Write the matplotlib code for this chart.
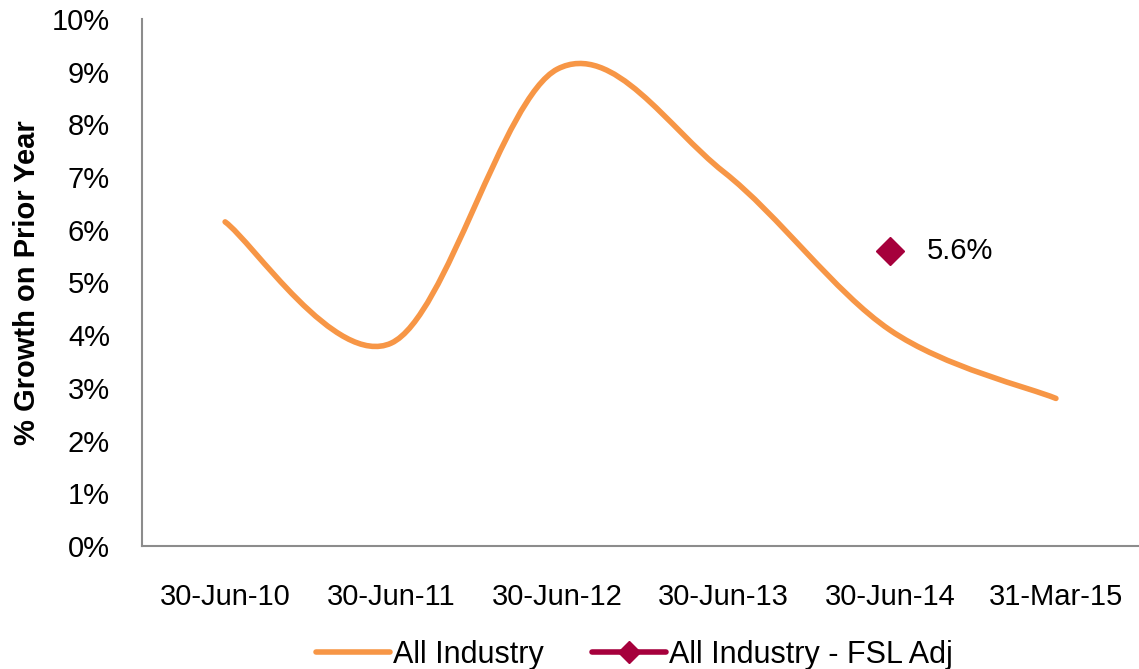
import matplotlib.pyplot as plt
from matplotlib.path import Path
from matplotlib.patches import PathPatch
import numpy as np

plt.rcParams['font.family'] = ['Liberation Sans', 'DejaVu Sans']

# data
CATEGORIES = ['30-Jun-10', '30-Jun-11', '30-Jun-12', '30-Jun-13', '30-Jun-14', '31-Mar-15']
ALL_INDUSTRY = [6.15, 3.85, 9.05, 7.1, 4.1, 2.8]
FSL_ADJ_INDEX = 4
FSL_ADJ_VALUE = 5.6
Y_TICKS = list(range(0, 11))

ORANGE = '#F79646'
MAROON = '#A6003C'
GREY = '#8C8C8C'


def smooth_path(xs: list, ys: list) -> Path:
    """
    Builds a cubic bezier path through the points, like the smoothed line of a spreadsheet chart
    """
    pts = np.column_stack([xs, ys]).astype(float)
    verts = [pts[0]]
    codes = [Path.MOVETO]
    n = len(pts)
    for i in range(n - 1):
        p0 = pts[i - 1] if i > 0 else pts[i]
        p1 = pts[i]
        p2 = pts[i + 1]
        p3 = pts[i + 2] if i + 2 < n else pts[i + 1]
        c1 = p1 + (p2 - p0) / 6.0
        c2 = p2 - (p3 - p1) / 6.0
        verts += [c1, c2, p2]
        codes += [Path.CURVE4] * 3
    return Path(verts, codes)


def main():
    fig = plt.figure(figsize=(11.39, 6.69), dpi=100)
    ax = fig.add_axes([0.1247, 0.1839, 0.8753, 0.7877])

    x = np.arange(len(CATEGORIES))
    curve = PathPatch(smooth_path(x, ALL_INDUSTRY), facecolor='none', edgecolor=ORANGE,
                      linewidth=4, capstyle='round', joinstyle='round')
    ax.add_patch(curve)

    ax.plot([x[FSL_ADJ_INDEX]], [FSL_ADJ_VALUE], linestyle='none', marker='D',
            markersize=14, color=MAROON)
    ax.annotate('{:.1f}%'.format(FSL_ADJ_VALUE), (x[FSL_ADJ_INDEX], FSL_ADJ_VALUE),
                xytext=(27, 0), textcoords='offset points', va='center', ha='left', fontsize=21)

    # legend handles
    ax.plot([], [], color=ORANGE, linewidth=4, solid_capstyle='round', label='All Industry')
    ax.plot([], [], color=MAROON, linewidth=4, marker='D', markersize=11,
            solid_capstyle='round', label='All Industry - FSL Adj')

    ax.set_xlim(-0.5, len(CATEGORIES) - 0.5)
    ax.set_ylim(0, 10)
    ax.set_xticks(x)
    ax.set_xticklabels(CATEGORIES, fontsize=21)
    ax.set_yticks(Y_TICKS)
    ax.set_yticklabels(['{}%'.format(t) for t in Y_TICKS], fontsize=21)
    ax.tick_params(length=0)
    ax.tick_params(axis='y', pad=23)
    ax.tick_params(axis='x', pad=27)
    ax.set_ylabel('% Growth on Prior Year', fontsize=21, fontweight='bold', labelpad=8)

    for side in ['top', 'right']:
        ax.spines[side].set_visible(False)
    for side in ['left', 'bottom']:
        ax.spines[side].set_color(GREY)
        ax.spines[side].set_linewidth(1.5)

    fig.legend(loc='lower center', bbox_to_anchor=(0.557, -0.042), ncol=2, frameon=False,
               fontsize=22, handlelength=2.4, handletextpad=0.1, columnspacing=1.6)

    fig.savefig('out.png', dpi=100)


if __name__ == "__main__":
    main()
